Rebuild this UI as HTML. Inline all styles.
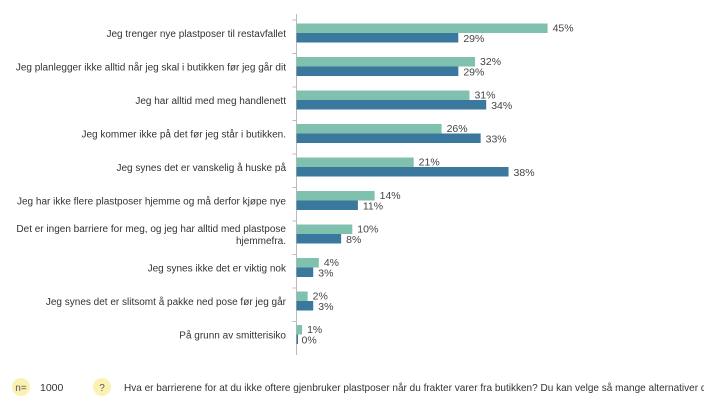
<!DOCTYPE html>
<html><head><meta charset="utf-8"><style>
body{margin:0;width:704px;height:402px;background:#fff;font-family:"Liberation Sans",sans-serif;overflow:hidden;position:relative}
svg{position:absolute;left:0;top:0}
</style></head><body>
<svg width="704" height="402">
<g id="chart"></g>
<g>
<circle cx="21" cy="387" r="9" fill="#fcf1b4"/>
<text x="21" y="391" font-size="10" fill="#555" text-anchor="middle">n=</text>
<text x="40" y="391" font-size="10.5" fill="#333">1000</text>
<circle cx="102" cy="387" r="9" fill="#fcf1b4"/>
<text x="102" y="391" font-size="10" fill="#555" text-anchor="middle">?</text>
<text x="124" y="391" font-size="10.5" fill="#333" textLength="588" lengthAdjust="spacingAndGlyphs">Hva er barrierene for at du ikke oftere gjenbruker plastposer når du frakter varer fra butikken? Du kan velge så mange alternativer du</text>
</g>
</svg>
<script>
const categories=["Jeg trenger nye plastposer til restavfallet","Jeg planlegger ikke alltid når jeg skal i butikken før jeg går dit","Jeg har alltid med meg handlenett","Jeg kommer ikke på det før jeg står i butikken.","Jeg synes det er vanskelig å huske på","Jeg har ikke flere plastposer hjemme og må derfor kjøpe nye","Det er ingen barriere for meg, og jeg har alltid med plastpose|hjemmefra.","Jeg synes ikke det er viktig nok","Jeg synes det er slitsomt å pakke ned pose før jeg går","På grunn av smitterisiko"];
const seriesA=[45,32,31,26,21,14,10,4,2,1];
const seriesB=[29,29,34,33,38,11,8,3,3,0];
const ns="http://www.w3.org/2000/svg";
const g=document.getElementById("chart");
const x0=296.5,pxPer=5.58,top0=20,rowH=33.5;
const xs=v=>x0+v*pxPer;
const yRow=i=>top0+i*rowH;
function mk(t,a){const e=document.createElementNS(ns,t);for(const k in a)e.setAttribute(k,a[k]);g.appendChild(e);return e;}
const ax=mk("line",{x1:x0,x2:x0,y1:top0-6,y2:yRow(categories.length),stroke:"#bbb"});


categories.forEach((c,i)=>{
 const y=yRow(i);
 const tk=mk("line",{x1:x0-4,x2:x0,y1:y,y2:y,stroke:"#bbb"});
 
 
 const lines=c.split("|");
 const cy=y+13;
 lines.forEach((l,j)=>{
  const t=mk("text",{x:286,y:cy+4+(j-(lines.length-1)/2)*12,"font-size":"10","fill":"#333","text-anchor":"end"});
  t.textContent=l;
  
  
 });
 const ba=mk("rect",{x:x0,y:y+3.5,width:Math.max(seriesA[i]*pxPer,0.5),height:9.5,fill:"#80c0af"});
 
 
 const bb=mk("rect",{x:x0,y:y+13,width:Math.max(seriesB[i]*pxPer,1.5),height:9.5,fill:"#3a789d"});
 
 
 const ta=mk("text",{x:xs(seriesA[i])+5,y:y+11.5,"font-size":"10.5",fill:"#444"});
 ta.textContent=seriesA[i]+"%";
 
 
 const tb=mk("text",{x:xs(seriesB[i])+5,y:y+22,"font-size":"10.5",fill:"#444"});
 tb.textContent=seriesB[i]+"%";
 
 
});
</script>
</body></html>
